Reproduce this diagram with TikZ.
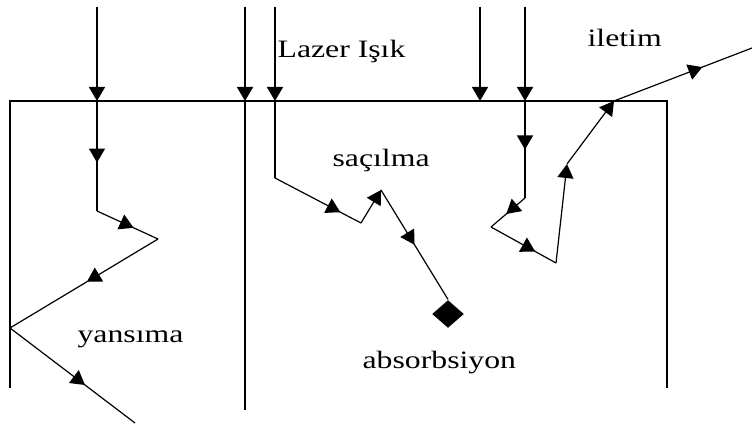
\documentclass[tikz,border=0pt]{standalone}
\usepackage{fontspec}
\setmainfont{Liberation Serif}[FakeStretch=1.27]
\usetikzlibrary{arrows.meta,decorations.markings,shapes.geometric}

\begin{document}
\begin{tikzpicture}[x=1pt,y=-1pt,line width=1.2pt,
    tip/.style={-{Triangle[length=14pt,width=16pt]}},
    arr/.style={postaction={decorate},decoration={markings,
        mark=at position #1 with {\arrow{Triangle[length=14pt,width=16pt]}}}},
    lbl/.style={anchor=base west,inner sep=0pt,font=\fontsize{25}{29}\selectfont}]
\useasboundingbox (0,0) rectangle (752,430);

% sample block
\coordinate (bl) at (10,388);
\coordinate (tl) at (10,101);
\coordinate (tr) at (667,101);
\coordinate (br) at (667,388);
\draw (bl) -- (tl) -- (tr) -- (br);

% incoming beams
\foreach \x in {97,245,275,480,525} {
    \draw[tip] (\x,7) -- (\x,101);
}
\draw (245,101) -- (245,410);

% reflection
\coordinate (r0) at (97,101);
\coordinate (r1) at (97,211);
\coordinate (r2) at (158,239);
\coordinate (r3) at (10,328);
\coordinate (r4) at (135,423);
\draw[arr=0.56] (r0) -- (r1);
\draw[arr=0.6] (r1) -- (r2);
\draw[arr=0.48] (r2) -- (r3);
\draw[arr=0.6] (r3) -- (r4);

% scattering and absorption
\node[diamond,fill,inner sep=0pt,minimum width=32pt,minimum height=28pt] (absorb) at (448,314) {};
\coordinate (s0) at (275,101);
\coordinate (s1) at (275,178);
\coordinate (s2) at (361,223);
\coordinate (s3) at (381,190);
\draw (s0) -- (s1);
\draw[arr=0.76] (s1) -- (s2);
\draw[tip] (s2) -- (s3);
\draw[arr=0.5] (s3) -- (absorb.north);

% transmission
\coordinate (t0) at (525,101);
\coordinate (t1) at (525,198);
\coordinate (t2) at (491,227);
\coordinate (t3) at (556,263);
\coordinate (t4) at (567,164);
\coordinate (t5) at (614,101);
\coordinate (t6) at (752,48);
\draw[arr=0.5] (t0) -- (t1);
\draw[arr=0.55] (t1) -- (t2);
\draw[arr=0.68] (t2) -- (t3);
\draw[tip] (t3) -- (t4);
\draw[tip] (t4) -- (t5);
\draw[arr=0.64] (t5) -- (t6);

% labels
\node[lbl] (laser) at (277,58) {Lazer Işık};
\node[lbl] (scat) at (332,167) {saçılma};
\node[lbl] (refl) at (77,342) {yansıma};
\node[lbl] (abs) at (362,368) {absorbsiyon};
\node[lbl] (trans) at (587,47) {iletim};

\end{tikzpicture}
\end{document}
